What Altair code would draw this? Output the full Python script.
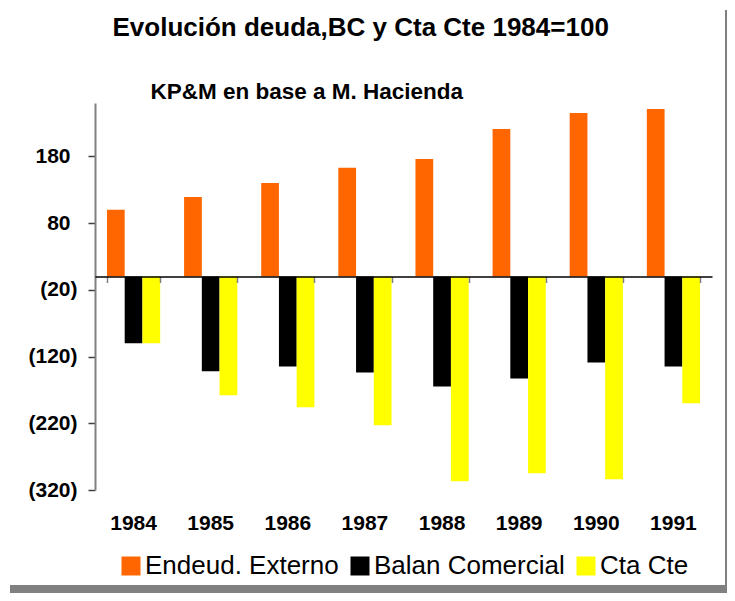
import altair as alt
import pandas as pd

# ---- data ----
years = ["1984", "1985", "1986", "1987", "1988", "1989", "1990", "1991"]
series = ["Endeud. Externo", "Balan Comercial", "Cta Cte"]
endeud = [100, 119, 140, 163, 176, 221, 245, 251]
balan = [-100, -142, -135, -144, -165, -153, -129, -135]
ctacte = [-100, -178, -196, -223, -307, -295, -304, -190]
colors = ["#FF6600", "#000000", "#FFFF00"]
y_ticks = [180, 80, -20, -120, -220, -320]
y_domain = [-320, 260]

title_text = "Evolución deuda,BC y Cta Cte 1984=100"
subtitle_text = "KP&M en base a M. Hacienda"

FONT = "Liberation Sans"

df = pd.DataFrame({
    "year": years * len(series),
    "series": [s for s in series for _ in years],
    "value": endeud + balan + ctacte,
})

W, H = 617, 387
PAD = {"left": 87, "top": 95, "right": 15, "bottom": 103}
zero_from_bottom = H * (0 - y_domain[0]) / (y_domain[1] - y_domain[0])
zero_from_top = H - zero_from_bottom

x_scale = alt.Scale(paddingInner=0.31, paddingOuter=0.155)
y_scale = alt.Scale(domain=y_domain, nice=False, zero=False)

y_axis = alt.Axis(
    values=y_ticks,
    labelExpr="datum.value < 0 ? '(' + format(-datum.value, 'd') + ')' : format(datum.value, 'd')",
    labelFont=FONT, labelFontSize=21, labelFontWeight="bold", labelColor="black",
    labelPadding={"condition": {"test": "datum.value >= 0", "value": 18}, "value": 11},
    domainColor="#808080", domainWidth=2,
    tickColor="#404040", tickSize=7, tickWidth=1.5,
    grid=False,
    title=subtitle_text, titleAngle=0, titleAlign="left", titleBaseline="alphabetic",
    titleX=55, titleY=-5, titleFont=FONT, titleFontSize=22.5, titleFontWeight="bold",
    titleColor="black",
)

bars = alt.Chart(df).mark_bar().encode(
    x=alt.X("year:N", sort=years, scale=x_scale,
            axis=alt.Axis(orient="bottom", domain=False, ticks=False, labelAngle=0,
                          labelFont=FONT, labelFontSize=21, labelFontWeight="bold",
                          labelColor="black", labelPadding=22, title=None, grid=False)),
    xOffset=alt.XOffset("series:N", sort=series, scale=alt.Scale(paddingInner=0, paddingOuter=0)),
    y=alt.Y("value:Q", scale=y_scale, axis=y_axis),
    color=alt.Color("series:N", sort=series,
                    scale=alt.Scale(domain=series, range=colors),
                    legend=alt.Legend(title=None, orient="none", legendX=23, legendY=450,
                                      direction="horizontal", symbolType="square",
                                      symbolSize=361, symbolStrokeWidth=0, symbolOpacity=1,
                                      labelFont=FONT, labelFontSize=26, labelColor="black",
                                      labelOffset=1, columnPadding=8, padding=0,
                                      labelLimit=400)),
)

# x axis drawn along the zero line; it also carries the chart's main title
zero_axis = alt.Chart(df).mark_bar(opacity=0).encode(
    x=alt.X("year:N", sort=years, scale=x_scale,
            axis=alt.Axis(orient="bottom", offset=-zero_from_bottom, labels=False,
                          domain=True, domainColor="black", domainWidth=1.5,
                          ticks=True, tickColor="#808080", tickSize=6, tickWidth=1.5,
                          tickBand="extent", grid=False, zindex=1,
                          title=title_text, titleAngle=0, titleAlign="left",
                          titleBaseline="alphabetic", titleX=17,
                          titleY=-68 - zero_from_top,
                          titleFont=FONT, titleFontSize=26, titleFontWeight="bold",
                          titleColor="black")),
    y=alt.Y("value:Q", scale=y_scale, axis=y_axis),
)

# frame shadow along the bottom and right edges of the canvas
frame_df = pd.DataFrame({"k": [0]})
shadow_bottom = alt.Chart(frame_df).mark_rect(color="#808080").encode(
    x=alt.value(-85), x2=alt.value(W + PAD["right"]),
    y=alt.value(H + PAD["bottom"] - 8), y2=alt.value(H + PAD["bottom"])
)
shadow_right = alt.Chart(frame_df).mark_rect(color="#808080").encode(
    x=alt.value(W + PAD["right"] - 2), x2=alt.value(W + PAD["right"]),
    y=alt.value(-93), y2=alt.value(H + PAD["bottom"])
)

chart = alt.layer(shadow_bottom, shadow_right, bars, zero_axis).resolve_axis(
    x="independent"
).properties(
    width=W, height=H,
    padding=PAD,
    autosize=alt.AutoSizeParams(type="none"),
).configure_view(strokeWidth=0)

chart.save("out.html", embed_options={"renderer": "svg", "actions": False})
